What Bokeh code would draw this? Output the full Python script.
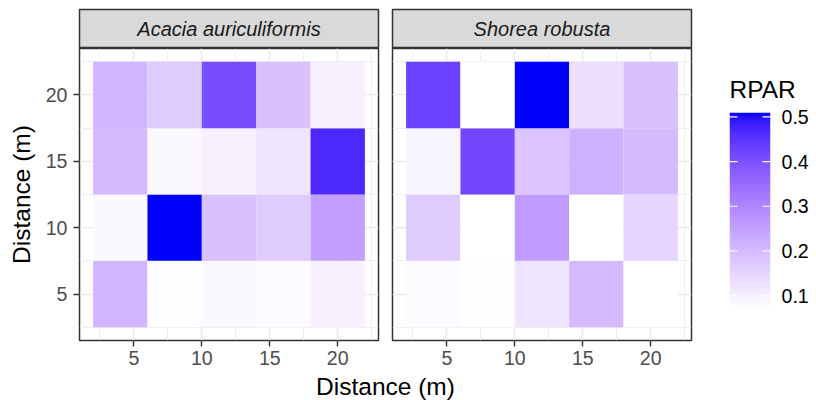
import numpy as np
from bokeh.plotting import figure
from bokeh.models import (ColumnDataSource, LinearColorMapper, Range1d,
                          FixedTicker, Label)
from bokeh.layouts import row, column
from bokeh.embed import file_html
from bokeh.resources import INLINE

# ---------------- data ----------------
species = ["Acacia auriculiformis", "Shorea robusta"]
x_dist = [4, 8, 12, 16, 20]
y_dist = [5, 10, 15, 20]
# rows: y = 5, 10, 15, 20 ; columns: x = 4, 8, 12, 16, 20
rpar_acacia = [
    [0.21, 0.075, 0.085, 0.078, 0.10],
    [0.085, 0.51, 0.19, 0.17, 0.25],
    [0.20, 0.085, 0.10, 0.12, 0.47],
    [0.21, 0.17, 0.41, 0.19, 0.10],
]
rpar_shorea = [
    [0.078, 0.076, 0.12, 0.20, 0.071],
    [0.17, 0.072, 0.26, 0.072, 0.15],
    [0.09, 0.42, 0.18, 0.22, 0.20],
    [0.43, 0.071, 0.51, 0.13, 0.19],
]
axis_ticks = [5, 10, 15, 20]
grid_minor = [2.5, 7.5, 12.5, 17.5, 22.5]
legend_ticks = [0.1, 0.2, 0.3, 0.4, 0.5]

FONT = "Liberation Sans"

# ------------- white -> blue gradient interpolated in Lab (like ggplot) -------------
M = np.array([[0.4124564, 0.3575761, 0.1804375],
              [0.2126729, 0.7151522, 0.0721750],
              [0.0193339, 0.1191920, 0.9503041]])
Minv = np.linalg.inv(M)
WHITE = np.array([0.95047, 1.0, 1.08883])
d = 6 / 29


def rgb_to_lab(rgb):
    c = np.asarray(rgb, float) / 255
    lin = np.where(c <= 0.04045, c / 12.92, ((c + 0.055) / 1.055) ** 2.4)
    xyz = M @ lin / WHITE
    f = np.where(xyz > d ** 3, np.cbrt(xyz), xyz / (3 * d * d) + 4 / 29)
    return np.array([116 * f[1] - 16, 500 * (f[0] - f[1]), 200 * (f[1] - f[2])])


def lab_to_hex(lab):
    L, a, b = lab
    fy = (L + 16) / 116
    fx = fy + a / 500
    fz = fy - b / 200
    f = np.array([fx, fy, fz])
    xyz = np.where(f > d, f ** 3, 3 * d * d * (f - 4 / 29)) * WHITE
    lin = Minv @ xyz
    lin = np.clip(lin, 0, 1)
    c = np.where(lin <= 0.0031308, 12.92 * lin, 1.055 * lin ** (1 / 2.4) - 0.055)
    c = np.clip(np.round(c * 255), 0, 255).astype(int)
    return "#%02x%02x%02x" % tuple(c)


lab_lo = rgb_to_lab([255, 255, 255])
lab_hi = rgb_to_lab([0, 0, 255])
palette = [lab_to_hex(lab_lo + (lab_hi - lab_lo) * t) for t in np.linspace(0, 1, 256)]

all_vals = np.array(rpar_acacia + rpar_shorea, float)
v_low, v_high = float(all_vals.min()), float(all_vals.max())
mapper = LinearColorMapper(palette=palette, low=v_low, high=v_high)

FRAME_W = 299
FRAME_H = 292
ROW_H = 48 + FRAME_H + 32


def make_source(values):
    xs, ys, vs = [], [], []
    for j, yv in enumerate(y_dist):
        for i, xv in enumerate(x_dist):
            xs.append(xv)
            ys.append(yv)
            vs.append(values[j][i])
    return ColumnDataSource(dict(x=xs, y=ys, v=vs))


def make_strip(name, left, right):
    s = figure(width=left + FRAME_W + right, height=48,
               x_range=Range1d(0, 1), y_range=Range1d(0, 1),
               min_border_left=left, min_border_right=right,
               min_border_top=9, min_border_bottom=0,
               x_axis_location=None, y_axis_location=None,
               output_backend="svg", toolbar_location=None,
               background_fill_color="#D9D9D9",
               outline_line_color="#333333", outline_line_width=1.5)
    for g in s.grid:
        g.visible = False
    s.add_layout(Label(x=0.5, y=0.5, text=name, text_align="center",
                       text_baseline="middle", text_font=FONT,
                       text_font_style="italic", text_font_size="20px",
                       text_color="#1A1A1A"))
    return s


def make_panel(values, left, right, show_y):
    p = figure(width=left + FRAME_W + right, height=FRAME_H + 32,
               x_range=Range1d(1, 23), y_range=Range1d(1.5, 23.5),
               min_border_left=left, min_border_right=right,
               min_border_top=0, min_border_bottom=32,
               y_axis_location="left" if show_y else None,
               output_backend="svg", toolbar_location=None,
               background_fill_color="white",
               outline_line_color="#333333", outline_line_width=1.5)
    ticker = FixedTicker(ticks=axis_ticks, minor_ticks=grid_minor)
    for g in p.grid:
        g.ticker = ticker
        g.grid_line_color = "#EBEBEB"
        g.grid_line_width = 1.6
        g.minor_grid_line_color = "#EBEBEB"
        g.minor_grid_line_width = 0.8
    for ax in p.axis:
        ax.ticker = ticker
        ax.axis_line_color = None
        ax.major_tick_line_color = "#333333"
        ax.major_tick_line_width = 1.4
        ax.major_tick_in = 0
        ax.major_tick_out = 6
        ax.minor_tick_line_color = None
        ax.major_label_text_font = FONT
        ax.major_label_text_font_size = "19.6px"
        ax.major_label_text_color = "#4D4D4D"
    p.xaxis.major_label_standoff = 4
    if show_y:
        p.yaxis.major_label_standoff = 6
        p.yaxis.axis_label = "Distance (m)"
        p.yaxis.axis_label_text_font = FONT
        p.yaxis.axis_label_text_font_size = "24.5px"
        p.yaxis.axis_label_text_font_style = "normal"
        p.yaxis.axis_label_text_color = "black"
        p.yaxis.axis_label_standoff = 8
    p.rect(x="x", y="y", width=4, height=5, source=make_source(values),
           fill_color={"field": "v", "transform": mapper}, line_color=None)
    return p


strip1 = make_strip(species[0], 79, 7)
panel1 = make_panel(rpar_acacia, 79, 7, True)
strip2 = make_strip(species[1], 7, 3)
panel2 = make_panel(rpar_shorea, 7, 3, False)

# ---------------- legend (colour bar drawn as its own small plot) ----------------
legend_fig = figure(width=122, height=ROW_H,
                    x_range=Range1d(0, 1), y_range=Range1d(v_low, v_high),
                    min_border_left=35, min_border_right=46,
                    min_border_top=112, min_border_bottom=ROW_H - 112 - 196,
                    x_axis_location=None, y_axis_location="right",
                    title="RPAR", outline_line_color=None,
                    output_backend="svg", toolbar_location=None)
for g in legend_fig.grid:
    g.visible = False
legend_fig.title.text_font = FONT
legend_fig.title.text_font_size = "24.5px"
legend_fig.title.text_font_style = "normal"
legend_fig.title.text_color = "black"
legend_fig.title.align = "left"
legend_fig.title.standoff = 19
grad = np.linspace(v_low, v_high, 300).reshape(-1, 1)
legend_fig.image(image=[grad], x=0, y=v_low, dw=1, dh=v_high - v_low,
                 color_mapper=mapper)
# white tick marks on both sides of the bar
legend_fig.segment(x0=0, x1=0.195, y0=legend_ticks, y1=legend_ticks,
                   line_color="white", line_width=1.2)
legend_fig.segment(x0=0.805, x1=1, y0=legend_ticks, y1=legend_ticks,
                   line_color="white", line_width=1.2)
rax = legend_fig.yaxis[0]
rax.ticker = FixedTicker(ticks=legend_ticks)
rax.axis_line_color = None
rax.major_tick_line_color = None
rax.minor_tick_line_color = None
rax.major_tick_in = 0
rax.major_tick_out = 0
rax.major_label_standoff = 11
rax.major_label_text_font = FONT
rax.major_label_text_font_size = "19.6px"
rax.major_label_text_color = "black"

# ---------------- shared x-axis title ----------------
xtitle_fig = figure(width=816, height=28, min_border=0,
                    x_range=Range1d(0, 1), y_range=Range1d(0, 1),
                    x_axis_location=None, y_axis_location=None,
                    outline_line_color=None, output_backend="svg",
                    toolbar_location=None)
for g in xtitle_fig.grid:
    g.visible = False
xtitle_fig.add_layout(Label(x=385, y=14, x_units="screen", y_units="screen",
                            text="Distance (m)", text_align="center",
                            text_baseline="middle", text_font=FONT,
                            text_font_size="24.5px", text_color="black"))

layout = column(row(column(strip1, panel1), column(strip2, panel2), legend_fig),
                xtitle_fig)

open("out.html", "w").write(file_html(layout, INLINE))
